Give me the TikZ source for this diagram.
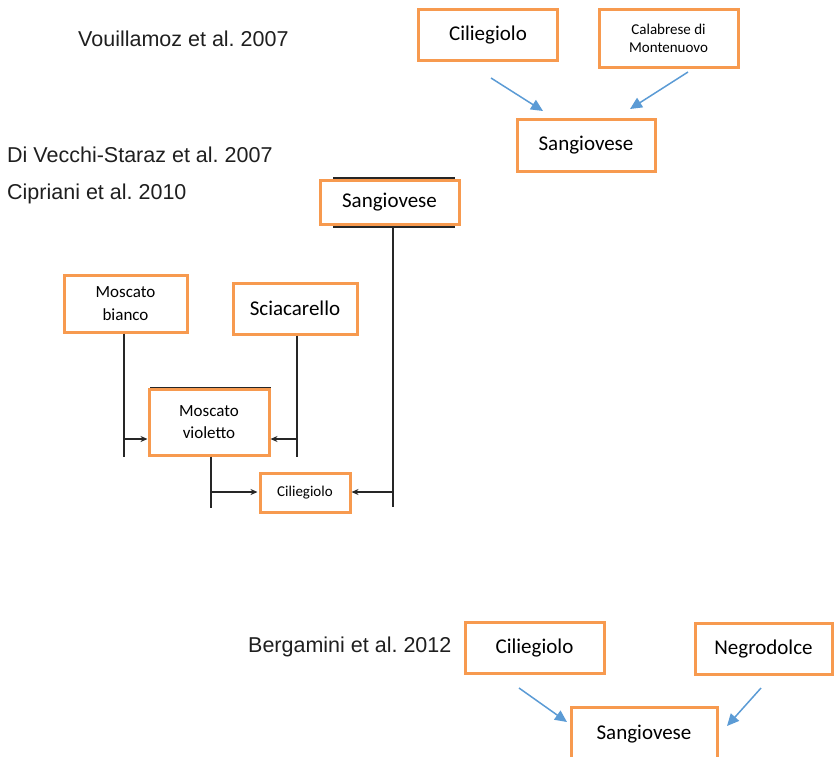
\documentclass[tikz,border=0pt]{standalone}
\usepackage{fontspec}
\setmainfont{Carlito}
\newfontfamily\labfont{Liberation Sans}
\usetikzlibrary{arrows.meta}
\definecolor{boxorange}{HTML}{F79A4F}
\definecolor{arrblue}{HTML}{5B9BD5}
\tikzset{
  vbox/.style={draw=boxorange, line width=3pt, fill=white, rectangle, align=center, inner sep=0pt},
  bigtxt/.style={font=\fontsize{21}{25}\selectfont},
  midtxt/.style={font=\fontsize{17}{22.5}\selectfont},
  smalltxt/.style={font=\fontsize{15}{18}\selectfont},
  ref/.style={anchor=base west, inner sep=0pt, font=\labfont\frenchspacing\fontsize{21.5}{24}\selectfont, text=black!88},
  blu/.style={draw=arrblue, line width=1.5pt, -{Triangle[length=12pt,width=11pt]}},
  conn/.style={draw=black!85, line width=1.4pt},
  carr/.style={draw=black!85, line width=1.4pt, -{Stealth[length=7pt,width=6pt]}},
  shade/.style={draw=black!85, line width=1.4pt},
}
\begin{document}
\begin{tikzpicture}[x=1pt,y=-1pt]
\useasboundingbox (0,0) rectangle (837,756);

% reference labels
\node[ref] (l1) at (78,46) {Vouillamoz et al. 2007};
\node[ref] (l2) at (7,162) {Di Vecchi-Staraz et al. 2007};
\node[ref] (l3) at (7,199) {Cipriani et al. 2010};
\node[ref] (l4) at (248,652) {Bergamini et al. 2012};

% ---- top: Vouillamoz ----
\node[vbox,bigtxt,minimum width=139pt,minimum height=51pt] (tc) at (488,35) {Ciliegiolo};
\node[vbox,smalltxt,minimum width=139pt,minimum height=58pt] (tcal) at (668.5,38.5) {Calabrese di\\Montenuovo};
\node[vbox,bigtxt,minimum width=138pt,minimum height=52pt] (ts) at (586,145) {Sangiovese};
\coordinate (ta1) at (491,78);
\coordinate (ta2) at (543,111);
\coordinate (tb1) at (688,72);
\coordinate (tb2) at (630,109);
\draw[blu] (ta1) -- (ta2);
\draw[blu] (tb1) -- (tb2);

% ---- middle: Di Vecchi-Staraz / Cipriani ----
% shadow lines behind boxes
\coordinate (sgA) at (333,178);
\coordinate (sgB) at (455,178);
\coordinate (sgC) at (333,227);
\coordinate (sgD) at (455,227);
\draw[shade] (sgA) -- (sgB);
\draw[shade] (sgC) -- (sgD);
\coordinate (mvA) at (150,388);
\coordinate (mvB) at (270,388);
\coordinate (mvC) at (270,439);
\draw[shade] (mvA) -- (mvB) -- (mvC);
\coordinate (mbA) at (64,276);
\coordinate (mbB) at (64,331);
\draw[shade] (mbA) -- (mbB);

\node[vbox,bigtxt,minimum width=139pt,minimum height=44pt] (ms) at (389.5,202.5) {Sangiovese};
\node[vbox,midtxt,minimum width=123pt,minimum height=57pt] (mb) at (125.5,303.5) {Moscato\\bianco};
\node[vbox,bigtxt,minimum width=124pt,minimum height=51pt] (sc) at (295,308.5) {Sciacarello};
\node[vbox,midtxt,minimum width=120pt,minimum height=66pt] (mv) at (209,422) {Moscato\\violetto};
\node[vbox,smalltxt,minimum width=90pt,minimum height=39pt] (mc) at (305,492.5) {Ciliegiolo};

% connectors
\coordinate (mbX) at (124,457);
\coordinate (mbY) at (124,439);
\draw[conn] (mb.south -| mbX) -- (mbX);
\draw[carr] (mbY) -- (mv.west |- mbY);

\coordinate (scX) at (297,457);
\coordinate (scY) at (297,439);
\draw[conn] (sc.south -| scX) -- (scX);
\draw[carr] (scY) -- (mv.east |- scY);

\coordinate (mvX) at (211,508);
\coordinate (mvY) at (211,492);
\draw[conn] (mv.south -| mvX) -- (mvX);
\draw[carr] (mvY) -- ([xshift=-1pt]mc.west |- mvY);

\coordinate (msX) at (393,507);
\coordinate (msY) at (393,492);
\draw[conn] (sgC -| msX) -- (msX);
\draw[carr] (msY) -- (mc.east |- msY);

% ---- bottom: Bergamini ----
\node[vbox,bigtxt,minimum width=139pt,minimum height=51pt] (bc) at (534.5,648) {Ciliegiolo};
\node[vbox,bigtxt,minimum width=137pt,minimum height=51pt] (bn) at (763.5,649) {Negrodolce};
\node[vbox,bigtxt,minimum width=146pt,minimum height=54pt] (bs) at (644,734) {Sangiovese};
\coordinate (ba1) at (519,688);
\coordinate (ba2) at (567,722);
\coordinate (bb1) at (761,688);
\coordinate (bb2) at (727,726);
\draw[blu] (ba1) -- (ba2);
\draw[blu] (bb1) -- (bb2);
\end{tikzpicture}
\end{document}
